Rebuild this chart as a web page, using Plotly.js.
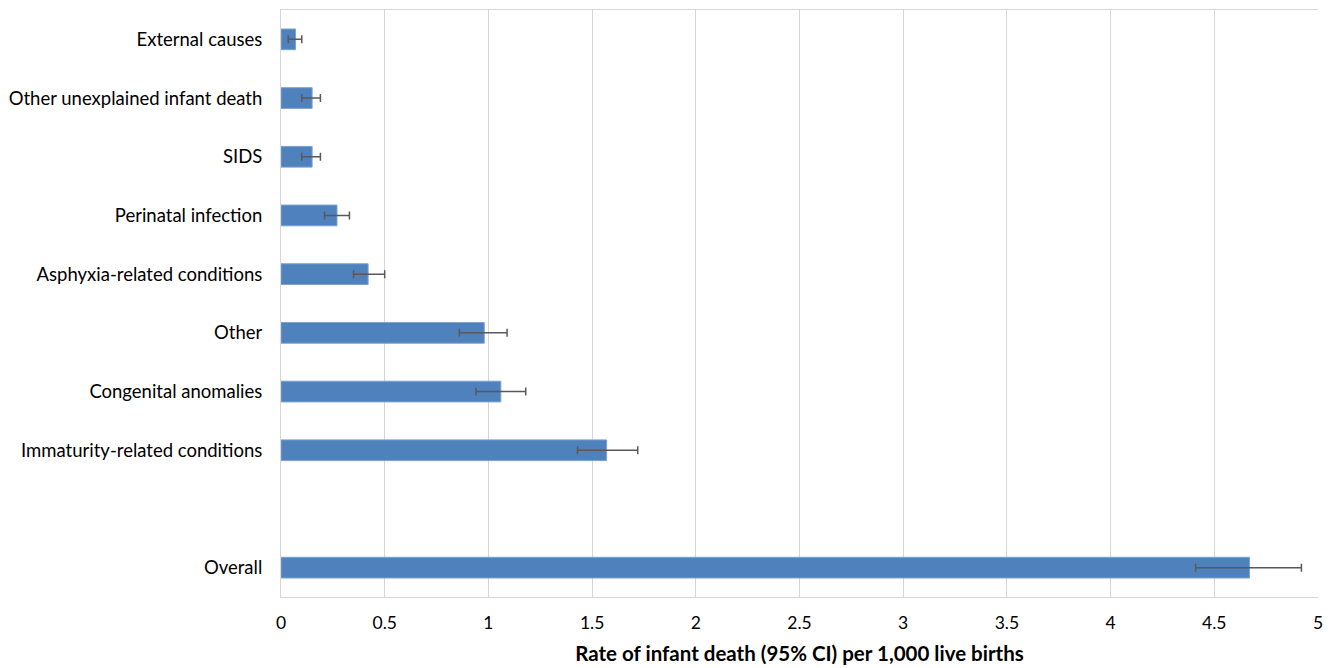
<!DOCTYPE html>
<html>
<head>
<meta charset="utf-8">
<script src="https://cdn.plot.ly/plotly-3.0.1.min.js"></script>
<style>html,body{margin:0;padding:0;background:#fff;}#chart{width:1333px;height:668px;}</style>
</head>
<body>
<div id="chart"></div>
<script>
// Categories from bottom to top (blank spacer between Overall and the causes)
const categories = ["Overall", " ", "Immaturity-related conditions", "Congenital anomalies", "Other",
  "Asphyxia-related conditions", "Perinatal infection", "SIDS", "Other unexplained infant death", "External causes"];
const rates = [4.67, null, 1.57, 1.06, 0.98, 0.42, 0.27, 0.15, 0.15, 0.07];
const ciLower = [4.41, null, 1.43, 0.94, 0.86, 0.35, 0.21, 0.10, 0.10, 0.035];
const ciUpper = [4.92, null, 1.72, 1.18, 1.09, 0.50, 0.33, 0.19, 0.19, 0.10];
const xTicks = [0, 0.5, 1, 1.5, 2, 2.5, 3, 3.5, 4, 4.5, 5];

const plus = rates.map((v, i) => v == null ? null : ciUpper[i] - v);
const minus = rates.map((v, i) => v == null ? null : v - ciLower[i]);

const font = "Lato, 'Open Sans', 'Liberation Sans', sans-serif";

Plotly.newPlot('chart', [{
  type: 'bar',
  orientation: 'h',
  y: categories,
  x: rates,
  marker: {color: '#4F81BD', line: {color: '#7DA2CF', width: 1}},
  error_x: {type: 'data', symmetric: false, array: plus, arrayminus: minus,
    color: '#595959', thickness: 1.5, width: 4},
  hoverinfo: 'x+y'
}], {
  width: 1333, height: 668,
  margin: {l: 281, r: 15, t: 10, b: 71},
  paper_bgcolor: '#fff', plot_bgcolor: '#fff',
  bargap: 0.647,
  showlegend: false,
  font: {family: font, color: '#000'},
  xaxis: {
    range: [0, 5], tickvals: xTicks, ticktext: xTicks.map(String),
    showgrid: true, gridcolor: '#D6D6D6', gridwidth: 1,
    zeroline: false, showline: true, linecolor: '#D6D6D6', linewidth: 1, mirror: true,
    ticks: '', tickfont: {size: 17.5, family: font}, ticklabelstandoff: 10,
    title: {text: '<b>Rate of infant death (95% CI) per 1,000 live births</b>', font: {size: 20.5, family: font}, standoff: 14}
  },
  yaxis: {
    type: 'category', categoryorder: 'array', categoryarray: categories,
    range: [-0.5, 9.5],
    showgrid: false, zeroline: false, showline: true, linecolor: '#D6D6D6', linewidth: 1,
    ticks: '', tickfont: {size: 18.5, family: font}, ticklabelstandoff: 14
  }
}, {displayModeBar: false, staticPlot: true});
</script>
</body>
</html>
